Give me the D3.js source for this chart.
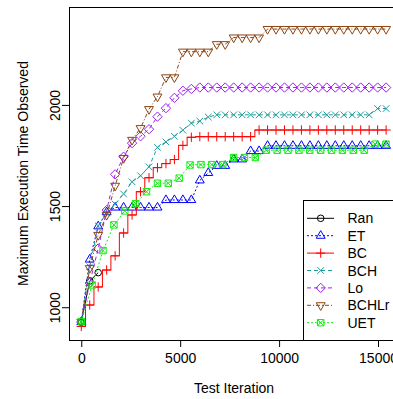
<!DOCTYPE html>
<html>
<head>
<meta charset="utf-8">
<script src="https://cdn.jsdelivr.net/npm/d3@7"></script>
<style>
	body { margin: 0; background: #fff; }
	svg { display: block; font-family: "Liberation Sans", Arial, sans-serif; }
</style>
</head>
<body>
<svg id="chart" width="393" height="399"></svg>
<script>
// iterations where the runs were sampled
var iterations = [0, 428, 856, 1284, 1712, 2140, 2568, 2996, 3424, 3852, 4280, 4708, 5136, 5564, 5992,
	6420, 6848, 7276, 7704, 8132, 8560, 8988, 9416, 9844, 10272, 10700, 11128, 11556, 11984, 12412,
	12840, 13268, 13696, 14124, 14552, 14980, 15408];
var uetIterations = [0, 550, 1100, 1650, 2200, 2750, 3300, 3850, 4400, 4950, 5500, 6050, 6600, 7150, 7700,
	8250, 8800, 9350, 9900, 10450, 11000, 11550, 12100, 12650, 13200, 13750, 14300, 14850, 15400];
var ranIterations = [0, 428, 856];

// max execution time observed so far
var ranValues = [927, 1130, 1171];
var etValues = [927, 1236, 1400, 1470, 1493, 1493, 1493, 1493, 1493, 1493, 1530, 1530, 1530, 1530, 1627,
	1664, 1699, 1699, 1731, 1731, 1772, 1772, 1798, 1798, 1798, 1798, 1798, 1798, 1798, 1798,
	1798, 1798, 1798, 1798, 1798, 1798, 1798];
var bcValues = [905, 1011, 1100, 1184, 1254, 1367, 1456, 1571, 1640, 1690, 1710, 1730, 1800, 1840, 1843,
	1843, 1843, 1843, 1843, 1843, 1843, 1876, 1876, 1876, 1876, 1876, 1876, 1876, 1876, 1876,
	1876, 1876, 1876, 1876, 1876, 1876, 1876];
var bchValues = [927, 1200, 1402, 1466, 1510, 1560, 1620, 1650, 1694, 1790, 1817, 1845, 1875, 1910, 1920,
	1940, 1951, 1951, 1951, 1951, 1951, 1951, 1951, 1951, 1951, 1951, 1951, 1951, 1951, 1951,
	1951, 1951, 1951, 1951, 1951, 1982, 1982];
var loValues = [927, 1120, 1290, 1480, 1657, 1744, 1811, 1845, 1880, 1942, 1984, 2035, 2070, 2079, 2086,
	2086, 2086, 2086, 2086, 2086, 2086, 2086, 2086, 2086, 2086, 2086, 2086, 2086, 2086, 2086,
	2086, 2086, 2086, 2086, 2086, 2086, 2086];
var bchlrValues = [927, 1193, 1357, 1456, 1600, 1737, 1827, 1885, 1979, 2041, 2136, 2136, 2263, 2263, 2263,
	2263, 2300, 2300, 2333, 2333, 2333, 2333, 2375, 2375, 2375, 2375, 2375, 2375, 2375, 2375,
	2375, 2375, 2375, 2375, 2375, 2375, 2375];
var uetValues = [929, 1110, 1280, 1407, 1476, 1512, 1571, 1613, 1613, 1638, 1703, 1705, 1705, 1705, 1740,
	1740, 1740, 1776, 1776, 1776, 1776, 1776, 1776, 1776, 1776, 1776, 1776, 1806, 1806];

var seriesNames = ["Ran", "ET", "BC", "BCH", "Lo", "BCHLr", "UET"];
var xTicks = [0, 5000, 10000, 15000];
var yTicks = [1000, 1500, 2000];

var seriesData = {
	Ran: {xs: ranIterations, ys: ranValues},
	ET: {xs: iterations, ys: etValues},
	BC: {xs: iterations, ys: bcValues},
	BCH: {xs: iterations, ys: bchValues},
	Lo: {xs: iterations, ys: loValues},
	BCHLr: {xs: iterations, ys: bchlrValues},
	UET: {xs: uetIterations, ys: uetValues}
};

var styles = {
	Ran: {color: "#000000", dash: null, mark: "circle"},
	ET: {color: "#0000ff", dash: "2,2", mark: "triUp"},
	BC: {color: "#ff0000", dash: null, mark: "plus", step: true},
	BCH: {color: "#1e9c9c", dash: "4,3", mark: "cross"},
	Lo: {color: "#a020f0", dash: "4,3", mark: "diamond"},
	BCHLr: {color: "#8b4513", dash: "4,2,1,2", mark: "triDown"},
	UET: {color: "#11ee11", dash: "2,2", mark: "boxX"}
};

var markPaths = {
	circle: "M3.3,0A3.3,3.3 0 1,1 -3.3,0A3.3,3.3 0 1,1 3.3,0Z",
	triUp: "M0,-5.1L4.45,2.57L-4.45,2.57Z",
	plus: "M-4.67,0H4.67M0,-4.67V4.67",
	cross: "M-3.3,-3.3L3.3,3.3M-3.3,3.3L3.3,-3.3",
	diamond: "M0,-4.67L4.67,0L0,4.67L-4.67,0Z",
	triDown: "M0,5.1L4.45,-2.57L-4.45,-2.57Z",
	boxX: "M-3.2,-3.2H3.2V3.2H-3.2ZM-3.2,-3.2L3.2,3.2M-3.2,3.2L3.2,-3.2"
};

var plot = {left: 69, top: 7, right: 399, bottom: 340};

var svg = d3.select('#chart');

var x = d3.scaleLinear().domain([-620, 16060]).range([plot.left, plot.right]);
var y = d3.scaleLinear().domain([838, 2484]).range([plot.bottom, plot.top]);

// y axis
var gy = svg.append('g')
	.attr('transform', 'translate(' + plot.left + ',0)')
	.call(d3.axisLeft(y).tickValues(yTicks).tickSize(7).tickSizeOuter(0).tickFormat(d3.format('d')));
gy.select('.domain').remove();
gy.selectAll('text')
	.attr('transform', 'rotate(-90)')
	.attr('x', 0)
	.attr('y', -9)
	.attr('dy', 0)
	.style('text-anchor', 'middle')
	.style('font-size', '14px')
	.style('font-family', '"Liberation Sans", Arial, sans-serif')
	.style('fill', '#000');

// x axis
var gx = svg.append('g')
	.attr('transform', 'translate(0,' + plot.bottom + ')')
	.call(d3.axisBottom(x).tickValues(xTicks).tickSize(7).tickSizeOuter(0).tickFormat(d3.format('d')));
gx.select('.domain').remove();
gx.selectAll('text')
	.attr('y', 23)
	.attr('dy', 0)
	.style('font-size', '14px')
	.style('font-family', '"Liberation Sans", Arial, sans-serif')
	.style('fill', '#000');

svg.append('text')
	.attr('transform', 'translate(28,' + ((plot.top + plot.bottom) / 2) + ') rotate(-90)')
	.style('text-anchor', 'middle')
	.style('font-size', '14px')
	.text('Maximum Execution Time Observed');

svg.append('text')
	.attr('x', (plot.left + plot.right) / 2)
	.attr('y', 393)
	.style('text-anchor', 'middle')
	.style('font-size', '14px')
	.text('Test Iteration');

// series
seriesNames.forEach(function(name) {
	var st = styles[name];
	var d = seriesData[name];
	var pts = d.xs.map(function(it, i) { return {x: it, y: d.ys[i]}; });
	var line = d3.line()
		.x(function(p) { return x(p.x); })
		.y(function(p) { return y(p.y); })
		.curve(st.step ? d3.curveStep : d3.curveLinear);
	var g = svg.append('g').attr('class', 'series-' + name);
	g.append('path')
		.attr('d', line(pts))
		.style('fill', 'none')
		.style('stroke', st.color)
		.style('stroke-width', '1px')
		.style('stroke-dasharray', st.dash);
	g.selectAll('path.mark')
		.data(pts)
		.enter().append('path')
		.attr('class', 'mark')
		.attr('d', markPaths[st.mark])
		.attr('transform', function(p) { return 'translate(' + x(p.x) + ',' + y(p.y) + ')'; })
		.style('fill', 'none')
		.style('stroke', st.color)
		.style('stroke-width', '1px');
});

// plot box
svg.append('rect')
	.attr('x', plot.left + 0.5)
	.attr('y', plot.top + 0.5)
	.attr('width', plot.right - plot.left)
	.attr('height', plot.bottom - plot.top)
	.style('fill', 'none')
	.style('stroke', 'black')
	.style('stroke-width', '1px');

// legend
var leg = svg.append('g');
leg.append('rect')
	.attr('x', 303.5)
	.attr('y', 200.5)
	.attr('width', plot.right - 303.5)
	.attr('height', plot.bottom - 200)
	.style('fill', 'white')
	.style('stroke', 'black')
	.style('stroke-width', '1px');

seriesNames.forEach(function(name, k) {
	var st = styles[name];
	var ly = 218.3 + k * 17.4;
	leg.append('line')
		.attr('x1', 307).attr('x2', 334)
		.attr('y1', ly).attr('y2', ly)
		.style('stroke', st.color)
		.style('stroke-width', '1px')
		.style('stroke-dasharray', st.dash);
	leg.append('path')
		.attr('d', markPaths[st.mark])
		.attr('transform', 'translate(320.7,' + ly + ')')
		.style('fill', 'none')
		.style('stroke', st.color)
		.style('stroke-width', '1px');
	leg.append('text')
		.attr('x', 347.5)
		.attr('y', ly)
		.attr('dy', '0.36em')
		.style('font-size', '14px')
		.text(name);
});
</script>
</body>
</html>
